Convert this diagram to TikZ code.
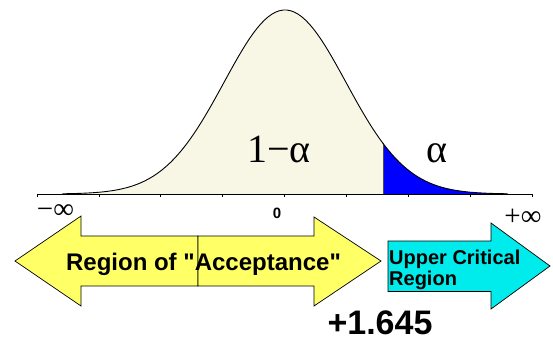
\documentclass[tikz,border=0pt]{standalone}
\usepackage{fontspec}
\setmainfont{Liberation Sans}
\newfontfamily\serifgreek{Liberation Serif}
\usepackage{tikz}
\usetikzlibrary{positioning}
\definecolor{creamfill}{RGB}{248,246,228}
\definecolor{tailblue}{RGB}{0,0,255}
\definecolor{accyellow}{RGB}{255,255,102}
\definecolor{critcyan}{RGB}{0,236,236}

\begin{document}
\begin{tikzpicture}[x=1pt,y=1pt,
  font=\bfseries,
  bell/.style={draw=black,line width=0.9pt},
  bigarrow/.style={draw=black,line width=0.7pt},
  greek/.style={font=\serifgreek\fontsize{40}{44}\selectfont,anchor=base},
  inf/.style={font=\serifgreek\fontsize{29}{32}\selectfont},
  label/.style={inner sep=0pt}]
  \useasboundingbox (0,0) rectangle (553,341);
  % areas under the curve
  \fill[creamfill] plot[domain=-3.65:1.607,samples=90] ({285+61*\x},{147+184*exp(-0.5*(\x)*(\x))})
    -- (383,147) -- (62,147) -- cycle;
  \fill[tailblue] plot[domain=1.607:3.65,samples=40] ({285+61*\x},{147+184*exp(-0.5*(\x)*(\x))})
    -- (508,147) -- (383,147) -- cycle;
  \coordinate (cut) at (383,147);
  \coordinate (cuttop) at (383,197.6);
  \draw[line width=0.5pt,black!70] (cut) -- (cuttop);
  \draw[bell] plot[domain=-3.65:3.65,samples=120] ({285+61*\x},{147+184*exp(-0.5*(\x)*(\x))});
  % axis with ticks
  \coordinate (xmin) at (37,147);
  \coordinate (xmax) at (532,147);
  \draw[line width=0.9pt] (xmin) -- (xmax);
  \foreach \k in {-4,...,4}
    \draw[line width=0.6pt] (284.5+61.9*\k,147) -- ++(0,-3);
  \node[greek] (one) at (279,179) {1−α};
  \node[greek] (alpha) at (437,179) {α};
  \node[inf] (minf) at (55.5,129) {−∞};
  \node[inf] (pinf) at (523,124) {+∞};
  \node[font=\bfseries\fontsize{15}{17}\selectfont] (zero) at (277,128) {0};
  % acceptance double arrow (two halves)
  \filldraw[bigarrow,fill=accyellow] (198,105) -- (81,105) -- (81,125) -- (15,80)
    -- (81,35) -- (81,55) -- (198,55) -- cycle;
  \filldraw[bigarrow,fill=accyellow] (198,105) -- (314,105) -- (314,124) -- (381,80)
    -- (314,35) -- (314,55) -- (198,55) -- cycle;
  \node[label,anchor=base,font=\bfseries\fontsize{24}{26}\selectfont] (accept) at (203.5,71)
    {Region of \textquotedbl Acceptance\textquotedbl};
  % critical arrow
  \filldraw[bigarrow,fill=critcyan] (388,100) -- (491,100) -- (491,118) -- (550,75)
    -- (491,32) -- (491,49.5) -- (388,49.5) -- cycle;
  \node[label,anchor=north west,align=left,font=\bfseries\fontsize{20}{21.5}\selectfont] (crit) at (389,91.5) {Upper Critical\\Region};
  \node[label,anchor=base,font=\bfseries\fontsize{34}{37}\selectfont] (cval) at (380,7) {+1.645};
\end{tikzpicture}
\end{document}
